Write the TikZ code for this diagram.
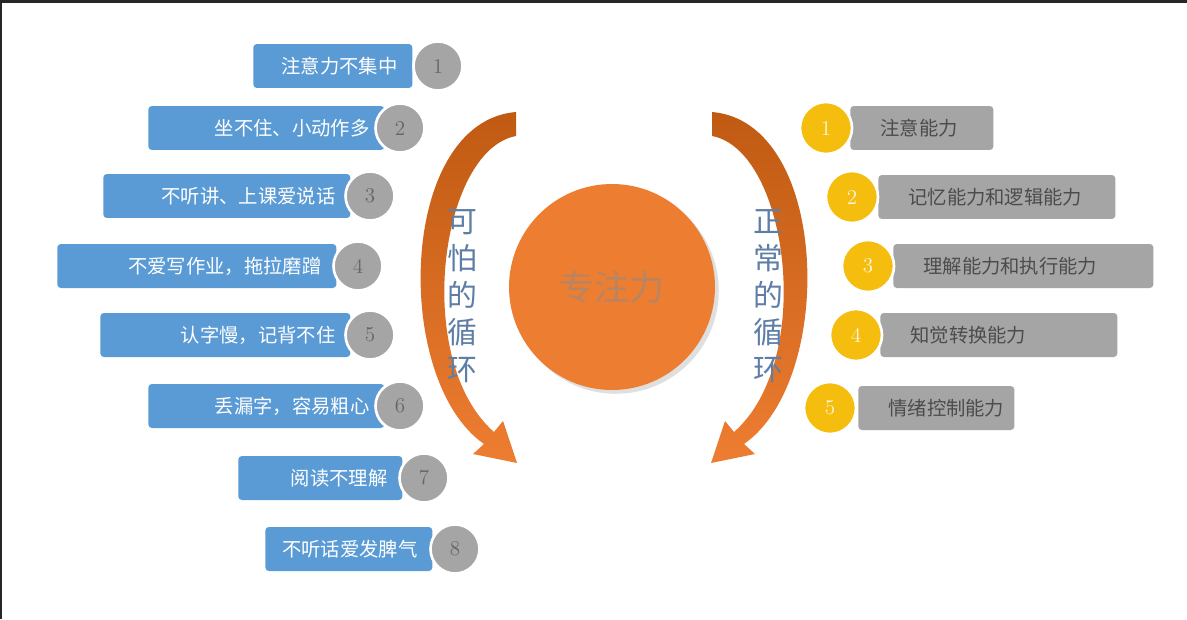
\documentclass[tikz,border=0pt]{standalone}
\usepackage{fontspec}
\newfontfamily\cjk{Noto Sans CJK SC}
\usetikzlibrary{shadows}
\definecolor{itemblue}{HTML}{5B9BD5}
\definecolor{itemgrey}{HTML}{A5A5A5}
\definecolor{dotyellow}{HTML}{F5BE0F}
\definecolor{coreorange}{HTML}{ED7D31}
\definecolor{arcbrown}{HTML}{C05A12}
\definecolor{looptext}{HTML}{5E7EA6}
\tikzset{
  lbox/.style={fill=itemblue,rounded corners=2pt,text=white,anchor=west,minimum height=0.88cm,
    inner xsep=0.3cm,align=right,font=\cjk\fontsize{11}{13}\selectfont},
  rbox/.style={fill=itemgrey,rounded corners=2pt,text=black!70,anchor=west,minimum height=0.88cm,
    inner xsep=0.6cm,align=left,font=\cjk\fontsize{11}{13}\selectfont},
  ldot/.style={circle,fill=itemgrey,draw=white,line width=1.5pt,minimum size=0.98cm,inner sep=0pt,
    text=black!60,font=\fontsize{12}{14}\selectfont},
  rdot/.style={circle,fill=dotyellow,draw=white,line width=1.5pt,minimum size=1.04cm,inner sep=0pt,
    text=white!85!dotyellow,font=\fontsize{12}{14}\selectfont},
  looplabel/.style={text=looptext,align=center,font=\cjk\fontsize{17}{21}\selectfont}
}
\begin{document}
\begin{tikzpicture}[x=0.02cm,y=-0.02cm]
	\fill[black!85] (0,0) rectangle (1187,619);
	\fill[white] (2,3) rectangle (1187,619);
	% left list
	\foreach \i/\xa/\xb/\yy/\cx/\txt in {1/253/412/66/438/注意力不集中,2/148/384/128/400/坐不住、小动作多,
	  3/103/350/196/370/不听讲、上课爱说话,4/57/336/266/358/不爱写作业，拖拉磨蹭,5/100/350/335/370/认字慢，记背不住,
	  6/148/384/406/400/丢漏字，容易粗心,7/238/402/478/424/阅读不理解,8/265/432/549/455/不听话爱发脾气}{
		\pgfmathsetmacro\tw{(\xb-\xa)*0.02-0.6}
		\node[lbox,text width=\tw cm] (l\i) at (\xa,\yy) {\txt};
		\node[ldot] (ln\i) at (\cx,\yy) {\i};
	}
	% right list
	\foreach \i/\xa/\xb/\yy/\cx/\txt in {1/850/993/128/826/注意能力,2/878/1115/197/852/记忆能力和逻辑能力,
	  3/893/1153/266/868/理解能力和执行能力,4/880/1117/335/856/知觉转换能力,5/858/1014/408/830/情绪控制能力}{
		\pgfmathsetmacro\tw{(\xb-\xa)*0.02-1.2}
		\node[rbox,text width=\tw cm] (r\i) at (\xa,\yy) {\txt};
		\node[rdot] (rn\i) at (\cx,\yy) {\i};
	}
	% loops
	\shade[top color=arcbrown,bottom color=coreorange] (516,112) -- (516,136) .. controls (440,150) and (412,360) .. (494,432)
	  -- (503,421) -- (517,463) -- (473,454) -- (484,444) .. controls (392,380) and (398,122) .. (516,112) -- cycle;
	\shade[top color=arcbrown,bottom color=coreorange] (712,112) -- (712,136) .. controls (788,150) and (816,360) .. (734,432)
	  -- (725,421) -- (711,463) -- (755,454) -- (744,444) .. controls (836,380) and (830,122) .. (712,112) -- cycle;
	\node[looplabel] (bad) at (462,296) {可\\怕\\的\\循\\环};
	\node[looplabel] (good) at (768,296) {正\\常\\的\\循\\环};
	% core
	\node[circle,fill=coreorange,minimum size=4.12cm,drop shadow={opacity=0.25},text=black!35!coreorange!70!white,
	  font=\cjk\fontsize{20}{24}\selectfont] (core) at (612,287) {专注力};
\end{tikzpicture}
\end{document}
